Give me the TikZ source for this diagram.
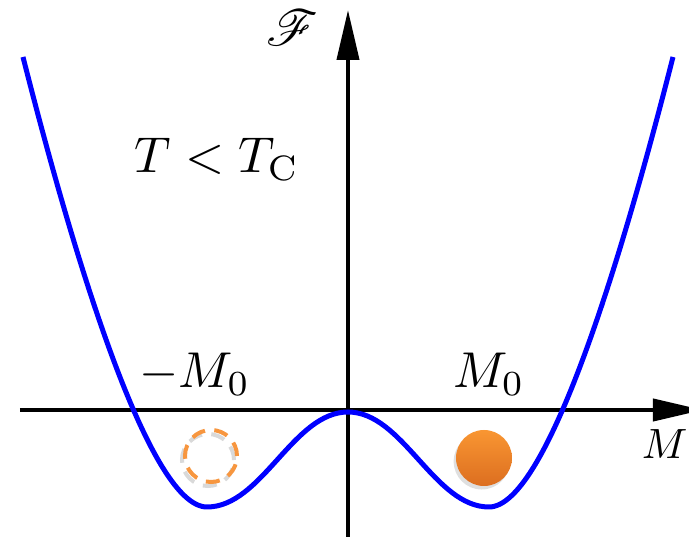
\documentclass[tikz,border=0pt]{standalone}
\usepackage{mathrsfs}
\usetikzlibrary{arrows.meta, shadows, positioning}
\definecolor{WellBlue}{HTML}{0000FF}
\definecolor{BallOrange}{HTML}{F99632}
\definecolor{BallDark}{HTML}{DC6E20}
\definecolor{RingOrange}{HTML}{F7963F}

\begin{document}
\begin{tikzpicture}[x=0.03cm, y=0.03cm,
  axisline/.style={line width=0.12cm, -{Triangle[length=1.5cm, width=0.66cm]}},
  wellcurve/.style={line width=0.15cm, draw=WellBlue},
  biglabel/.style={scale=4.3, inner sep=0pt},
  ballstyle/.style={circle, inner sep=0pt, minimum size=1.68cm, top color=BallOrange, bottom color=BallDark,
    drop shadow={opacity=0.25, shadow xshift=-2pt, shadow yshift=-3pt}},
  ringstyle/.style={circle, inner sep=0pt, minimum size=1.56cm, line width=0.12cm, dash pattern=on 12pt off 8pt},
  ]
  \useasboundingbox (-348,-131) rectangle (341,410);
  \clip (-348,-131) rectangle (341,410);
  % axes
  \coordinate (xstart) at (-328,0);
  \coordinate (xend) at (355,0);
  \coordinate (ystart) at (0,-127);
  \coordinate (yend) at (0,400);
  \draw[axisline] (xstart) -- (xend);
  \draw[axisline] (ystart) -- (yend);
  % double well
  \draw[wellcurve] (-325,353) .. controls (-279,172) and (-201,-97) .. (-141,-97)
    .. controls (-86,-97) and (-55,-2) .. (0,-2)
    .. controls (55,-2) and (86,-97) .. (141,-97)
    .. controls (201,-97) and (279,172) .. (325,353);
  % labels
  \node[biglabel] (flabel) at (-56,382) {$\mathscr{F}$};
  \node[biglabel, anchor=base] (tlabel) at (-131,237) {$T < T_{\mathrm{C}}$};
  \node[biglabel, anchor=base] (mneg) at (-153,22) {$-M_0$};
  \node[biglabel, anchor=base] (mpos) at (141,22) {$M_0$};
  \node[biglabel, scale=0.84, anchor=base west] (mlabel) at (293,-49) {$M$};
  % balls
  \node[ringstyle, draw=gray, opacity=0.3] (ringshadow) at (-140,-50) {};
  \node[ringstyle, draw=RingOrange] (ballleft) at (-137,-46) {};
  \node[ballstyle] (ballright) at (136,-48) {};
\end{tikzpicture}
\end{document}
